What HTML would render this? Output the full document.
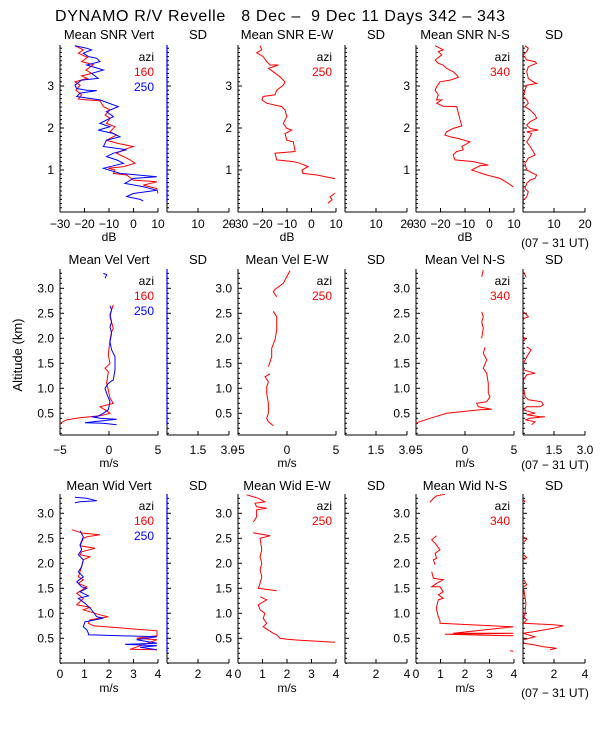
<!DOCTYPE html>
<html><head><meta charset="utf-8"><style>
html,body{margin:0;padding:0;background:#fff;}
svg{display:block;font-family:"Liberation Sans",sans-serif;}
</style></head><body>
<svg id="chart" width="600" height="750" viewBox="0 0 600 750" xmlns="http://www.w3.org/2000/svg">
<rect width="600" height="750" fill="#fff"/>
<text x="55" y="21" font-size="16" fill="#000" xml:space="preserve" style="white-space:pre" textLength="450" lengthAdjust="spacing">DYNAMO R/V Revelle   8 Dec –  9 Dec 11 Days 342 – 343</text>
<text transform="translate(22,355) rotate(-90)" text-anchor="middle" font-size="13">Altitude (km)</text>
</svg>
<script>
// ---- data: [altitude km, value] ; null = gap ----
const snrVert160=[[3.96,-23.9],[3.86,-20.5],[3.78,-22.5],[3.68,-18.8],[3.58,-21.2],[3.51,-16.4],[3.38,-19.4],[3.30,-17.1],[3.24,-21.2],[3.18,-18.8],[3.10,-23.9],[3.02,-21.8],[2.90,-23.5],[2.79,-21.2],[2.69,-22.5],[2.67,-19.1],[2.65,-13.7],[2.51,-12.3],[2.43,-9.6],[2.31,-11.6],[2.23,-9.6],[2.11,-11.0],[2.03,-7.6],[1.91,-9.6],[1.83,-6.9],[1.71,-11.0],[1.63,-6.2],[1.56,-0.1],[1.48,-4.1],[1.40,-6.9],[1.24,-1.4],[1.16,0.6],[1.08,-4.1],[1.04,-10.3],[1.00,-7.6],[0.92,-8.2],[0.88,-2.8],[0.76,-0.1],[0.72,9.5],[0.64,4.0],[0.56,9.5],[0.44,10]];
const snrVert250=[[3.96,-23.9],[3.90,-19.1],[3.86,-17.1],[3.78,-20.5],[3.70,-18.4],[3.66,-15.0],[3.58,-13.7],[3.50,-19.1],[3.38,-12.3],[3.30,-17.1],[3.18,-14.4],[3.14,-21.2],[3.02,-23.9],[2.94,-23.2],[2.90,-19.1],[2.89,-15.0],[2.83,-21.8],[2.75,-23.2],[2.67,-13.7],[2.51,-6.2],[2.39,-11.0],[2.27,-8.2],[2.19,-11.0],[2.11,-13.7],[2.03,-9.6],[1.95,-14.4],[1.87,-8.2],[1.79,-5.5],[1.71,-11.0],[1.56,-12.3],[1.48,-2.8],[1.40,-8.2],[1.32,-11.0],[1.24,-6.9],[1.16,-4.1],[1.10,-8.2],[1.04,-12.3],[0.92,-5.5],[0.84,9.5],[0.80,-0.1],[0.68,-3.5],[0.60,4.0],[0.52,9.5],[0.44,-0.1],[0.37,-2.8],[0.30,2.7],[0.26,4.0]];
const snrEW250=[[3.96,-21.0],[3.86,-20.3],[3.79,-22.4],[3.70,-19.7],[3.58,-18.3],[3.50,-16.9],[3.50,-13.5],[3.42,-17.6],[3.34,-15.6],[3.22,-12.9],[3.10,-10.8],[3.02,-11.5],[2.90,-14.2],[2.79,-14.9],[2.75,-19.7],[2.67,-20.3],[2.59,-18.3],[2.51,-12.2],[2.43,-10.8],[2.27,-10.1],[2.11,-11.5],[1.99,-10.1],[1.95,-8.1],[1.87,-10.8],[1.71,-10.1],[1.67,-7.4],[1.44,-6.7],[1.40,-14.9],[1.24,-14.2],[1.20,-7.4],[1.16,-4.7],[1.08,-1.4],[1.00,-3.9],[0.92,-3.5],[0.88,2.2],[0.79,9.6],null,[0.45,9.6],[0.36,7.6],[0.29,8.4],[0.21,6.7]];
const snrNS340=[[3.96,-22.2],[3.90,-20.2],[3.86,-18.9],[3.82,-20.9],[3.74,-19.5],[3.62,-22.2],[3.54,-20.9],[3.50,-18.9],[3.42,-17.5],[3.34,-14.8],[3.26,-13.4],[3.21,-12.7],[3.14,-16.1],[3.10,-20.2],[2.98,-21.6],[2.90,-22.2],[2.79,-20.9],[2.67,-21.6],[2.67,-19.5],[2.59,-21.6],[2.52,-18.9],[2.51,-13.4],[2.35,-12.7],[2.19,-12.0],[2.05,-11.3],[1.99,-14.8],[1.91,-17.5],[1.83,-18.2],[1.79,-16.1],[1.75,-12.7],[1.67,-8.0],[1.60,-10.0],[1.56,-11.3],[1.48,-10.7],[1.44,-13.4],[1.36,-14.8],[1.24,-14.1],[1.20,-6.6],[1.12,-0.5],[1.10,-3.9],[1.00,-7.3],[0.96,-5.2],[0.92,-3.2],[0.88,-1.1],[0.80,4.3],[0.68,7.7],[0.60,9.7]];
const snrSDNS=[[3.96,0.6],[3.90,1.7],[3.82,1.2],[3.74,0.1],[3.62,1.2],[3.58,3.9],[3.54,4.4],[3.46,1.7],[3.34,1.2],[3.18,1.7],[3.10,3.3],[3.06,4.4],[3.02,1.2],[2.90,0.6],[2.75,0.1],[2.67,1.2],[2.59,1.7],[2.51,0.6],[2.43,2.3],[2.31,3.9],[2.23,4.4],[2.15,2.3],[2.07,1.2],[1.99,2.3],[1.95,4.9],[1.91,1.2],[1.87,2.8],[1.79,2.3],[1.67,1.2],[1.56,2.3],[1.44,3.3],[1.36,3.9],[1.28,1.7],[1.16,0.6],[1.00,1.2],[0.92,3.3],[0.88,4.4],[0.80,3.9],[0.76,2.3],[0.68,1.2],[0.56,0.6],[0.48,1.7],[0.36,1.2],[0.28,0.1],[0.20,0.2]];
const velVert160=[[2.67,0.44],[2.57,0.27],[2.43,0.1],[2.20,0.44],[2.13,0.27],[1.97,0.1],[1.67,-0.07],[1.50,0.1],[1.43,-0.24],[1.40,-0.41],[1.33,-0.07],[1.10,-0.24],[0.97,-0.07],[0.80,0.1],[0.70,0.44],[0.63,-0.92],[0.57,-0.41],[0.50,0.1],[0.45,-0.92],[0.43,-1.94],[0.41,-2.96],[0.37,-4.32],[0.30,-5.0]];
const velVert250=[[3.30,-0.58],[3.27,-0.23],[3.20,-0.41],null,[2.65,0.1],[2.57,0.27],[2.47,0.1],[2.33,0.27],[2.23,0.1],[2.10,0.27],[1.93,0.1],[1.77,0.27],[1.63,0.61],[1.37,0.61],[1.17,0.44],[1.10,-0.07],[1.00,-0.41],[0.90,-0.24],[0.73,0.1],[0.57,-0.07],[0.50,-0.58],[0.43,-1.26],[0.43,-1.77],[0.40,-0.92],[0.38,0.78],[0.33,-1.6],[0.31,-2.45],[0.30,-0.58],[0.27,0.78]];
const velEW250=[[3.35,0.31],[3.23,-0.03],[3.10,-0.38],[2.98,-1.22],[2.93,-1.4],[2.83,-1.05],null,[2.54,-1.4],[2.43,-1.05],[2.17,-1.05],[1.97,-1.22],[1.80,-1.56],[1.63,-1.56],[1.43,-1.9],null,[1.29,-1.73],[1.23,-2.24],[1.13,-1.9],[1.03,-2.07],[0.90,-2.07],[0.70,-1.9],[0.50,-1.9],[0.40,-2.07],[0.33,-1.9],[0.25,-1.4]];
const velNS340=[[3.37,1.87],[3.23,1.7],null,[2.53,1.7],[2.43,1.87],[2.33,1.7],[2.20,1.87],[2.00,1.7],null,[1.82,2.04],[1.70,1.87],[1.57,2.21],[1.40,1.87],[1.30,2.21],[1.10,2.38],[0.90,2.38],[0.83,2.55],[0.73,2.21],[0.70,1.19],[0.63,1.36],[0.58,2.72],[0.57,1.53],[0.50,-1.87],[0.40,-3.57],[0.30,-5.1]];
const velSDNS=[[3.32,0.02],[3.27,0.1],[3.22,0.15],null,[2.53,0.02],[2.43,0.26],[2.40,0.05],[2.37,0.02],null,[2.03,0.02],[1.98,0.1],[1.94,0.02],null,[1.83,0.18],[1.77,0.39],[1.63,0.18],[1.50,0.02],[1.37,0.03],[1.30,0.58],[1.27,0.18],[1.17,0.03],[1.03,0.02],[0.83,0.1],[0.77,0.26],[0.73,0.9],[0.67,0.98],[0.63,0.82],[0.63,0.18],[0.57,0.02],[0.53,0.34],[0.50,0.58],[0.47,0.18],[0.43,0.82],[0.43,1.06],[0.40,0.34],[0.37,0.1],[0.33,0.58],[0.27,0.42]];
const widVert160=[[2.67,0.48],[2.60,0.95],[2.57,1.63],[2.53,1.09],[2.50,0.95],[2.35,0.82],[2.30,1.43],[2.23,0.88],[2.17,0.82],[2.13,1.22],[2.07,0.95],[1.93,0.88],[1.73,0.75],[1.67,0.95],[1.60,0.75],[1.53,1.09],[1.40,0.68],[1.30,0.95],[1.17,0.68],[1.12,1.22],[1.07,0.95],[1.03,1.22],[0.97,1.63],[0.93,1.97],[0.87,1.22],[0.80,1.16],[0.75,1.36],[0.65,3.96],[0.55,3.96],[0.50,3.13],[0.47,3.96],[0.28,2.86],[0.27,3.96]];
const widVert250=[[3.32,0.61],[3.30,1.09],[3.25,1.5],[3.23,0.82],[3.21,0.61],null,[2.65,0.82],[2.53,0.95],[2.37,0.82],[2.27,0.88],[2.17,0.75],[2.07,0.95],[1.93,0.88],[1.83,0.75],[1.73,0.95],[1.63,0.68],[1.53,0.88],[1.50,1.09],[1.43,0.82],[1.35,1.16],[1.30,0.75],[1.20,1.02],[1.07,1.29],[0.93,1.50],[0.90,1.77],[0.83,1.02],[0.73,0.95],[0.67,1.09],[0.60,1.16],[0.57,1.16],[0.53,3.96],[0.47,3.13],[0.40,3.96],[0.38,2.65],[0.35,3.96],[0.32,3.27],[0.27,3.96]];
const widEW250=[[3.37,0.35],[3.30,0.83],[3.23,1.1],[3.20,0.69],[3.13,0.76],[3.10,1.17],[3.07,0.76],[2.93,0.76],[2.87,0.69],[2.83,0.62],null,[2.61,0.62],[2.55,1.31],[2.50,0.9],[2.27,0.97],[2.13,0.9],[2.00,0.97],[1.87,0.9],[1.73,0.97],[1.60,0.9],[1.50,0.83],[1.45,1.58],null,[1.33,0.9],[1.27,1.17],[1.17,0.83],[1.07,0.9],[1.00,1.1],[0.90,1.03],[0.80,1.17],[0.73,1.03],[0.60,1.44],[0.57,1.58],[0.50,1.71],[0.48,1.99],[0.46,2.53],[0.42,3.96]];
const widNS340=[[3.22,0.57],[3.30,0.71],[3.35,0.84],[3.38,1.18],null,[2.55,0.84],[2.47,0.64],[2.40,0.78],[2.27,0.98],[2.20,0.78],[2.10,0.84],[2.07,0.71],[1.97,0.78],null,[1.83,0.64],[1.70,0.71],[1.67,1.11],[1.60,0.84],[1.53,0.64],[1.53,0.98],[1.43,1.11],[1.37,0.91],[1.30,1.11],[1.27,0.91],[1.13,0.84],[1.07,0.84],[0.93,0.91],[0.85,0.98],[0.80,0.98],[0.73,3.97],[0.60,1.52],[0.60,3.97],[0.58,1.18],[0.55,3.97],null,[0.25,3.84],[0.24,3.97]];
const widSDNS=[[3.27,0.06],[3.22,0.13],null,[2.53,0.02],[2.48,0.24],[2.43,0.06],null,[2.17,0.02],[2.12,0.24],[2.07,0.06],null,[1.67,0.06],[1.57,0.24],[1.53,0.02],[1.47,0.06],[1.20,0.19],[1.00,0.13],[0.93,0.06],[0.87,0.24],[0.80,0.02],[0.77,1.96],[0.75,2.6],[0.70,1.96],[0.63,0.67],[0.60,0.02],[0.53,0.77],[0.47,0.02],[0.40,0.06],[0.37,0.67],[0.33,1.31],[0.30,2.17],[0.27,1.74]];
const legendRows=[["azi","160","250"],["azi","250"],["azi","340"]];

const RED="#ff0000",BLUE="#0000ff";
const svg=document.getElementById('chart');
const NS="http://www.w3.org/2000/svg";
function el(tag,attrs,parent){const e=document.createElementNS(NS,tag);for(const k in attrs)e.setAttribute(k,attrs[k]);(parent||svg).appendChild(e);return e;}
const colX=[[60,158],[167,229],[238,336],[345,407],[416,514],[523,585]];
const rows=[
 {top:45,bottom:212,y0:212,ppk:42,amin:0,amax:3.98,major:[1,2,3],fmt:v=>String(v),tickY:228,unitY:241,utY:247,titleY:39},
 {top:269,bottom:435,y0:438.3,ppk:50,amin:0.07,amax:3.39,major:[0.5,1,1.5,2,2.5,3],fmt:v=>v.toFixed(1),tickY:454,unitY:467,utY:469,titleY:264},
 {top:494,bottom:663,y0:663.3,ppk:50,amin:0,amax:3.39,major:[0.5,1,1.5,2,2.5,3],fmt:v=>v.toFixed(1),tickY:678,unitY:692,utY:697,titleY:490}
];
const titles=[["Mean SNR Vert","SD","Mean SNR E-W","SD","Mean SNR N-S","SD"],["Mean Vel Vert","SD","Mean Vel E-W","SD","Mean Vel N-S","SD"],["Mean Wid Vert","SD","Mean Wid E-W","SD","Mean Wid N-S","SD"]];
const ranges=[[[-30,10],[0,20]],[[-5,5],[0,3]],[[0,4],[0,4]]];
const meanTicks=[[-30,-20,-10,0,10],[-5,0,5],[0,1,2,3,4]];
const sdTicks=[[10,20],[1.5,3.0],[2,4]];
const sdFmt=[v=>String(v),v=>v.toFixed(1),v=>String(v)];
const units=["dB","m/s","m/s"];
const series=[
 [[[snrVert160,RED],[snrVert250,BLUE]],null,[[snrEW250,RED]],null,[[snrNS340,RED]],[[snrSDNS,RED]]],
 [[[velVert160,RED],[velVert250,BLUE]],null,[[velEW250,RED]],null,[[velNS340,RED]],[[velSDNS,RED]]],
 [[[widVert160,RED],[widVert250,BLUE]],null,[[widEW250,RED]],null,[[widNS340,RED]],[[widSDNS,RED]]]
];
const sdAxisColor=[BLUE,null,RED];

rows.forEach((r,ri)=>{
  const yScale=a=>r.y0-r.ppk*a;
  for(let c=0;c<6;c++){
    const [x0,x1]=colX[c];
    const isSD=c%2===1;
    const [vmin,vmax]=ranges[ri][isSD?1:0];
    const xScale=v=>x0+(v-vmin)/(vmax-vmin)*(x1-x0);
    const g=el('g',{});
    
    
    const t=el('text',{x:(x0+x1)/2,y:r.titleY,'text-anchor':'middle','font-size':'13'},g);
    t.textContent=titles[ri][c];
    
    
    el('line',{x1:x0,y1:r.bottom,x2:x1,y2:r.bottom,stroke:'#000','stroke-width':1},g);
    const lc=(isSD&&c<5)?sdAxisColor[c>>1]:'#000';
    el('line',{x1:x0,y1:r.top,x2:x0,y2:r.bottom,stroke:'#000','stroke-width':1},g);
    if(lc&&lc!=='#000') el('line',{x1:x0,y1:r.top,x2:x0,y2:r.bottom-10,stroke:lc,'stroke-width':1.2},g);
    for(let a=Math.ceil(r.amin*10)/10;a<=r.amax+1e-6;a=Math.round((a+0.1)*10)/10){
      const y=yScale(a);const maj=r.major.some(m=>Math.abs(m-a)<1e-6);
      el('line',{x1:x0,y1:y,x2:x0+(maj?4:2),y2:y,stroke:'#000','stroke-width':1},g);
    }
    if(!isSD){
      r.major.forEach(m=>{const tx=el('text',{x:x0-6,y:yScale(m)+4,'text-anchor':'end','font-size':'12'},g);tx.textContent=r.fmt(m);});
    }
    const xt=isSD?sdTicks[ri]:meanTicks[ri];
    xt.forEach(v=>{const x=xScale(v);
      el('line',{x1:x,y1:r.bottom,x2:x,y2:r.bottom-4,stroke:'#000'},g);
      const tx=el('text',{x:x,y:r.tickY,'text-anchor':'middle','font-size':'12'},g);
      tx.textContent=isSD?sdFmt[ri](v):String(v).replace('-','\u2212');});
    if(!isSD){const u=el('text',{x:(x0+x1)/2,y:r.unitY,'text-anchor':'middle','font-size':'12'},g);u.textContent=units[ri];
      }
    if(c===5){const u=el('text',{x:555,y:r.utY,'text-anchor':'middle','font-size':'12'},g);u.textContent="(07 \u2212 31 UT)";
      }
    const cid='clip'+ri+c;
    const cp=el('clipPath',{id:cid},g);el('rect',{x:x0,y:r.top,width:x1-x0+1,height:r.bottom-r.top},cp);
    const ser=series[ri][c];
    if(ser){ser.forEach(([data,col],si)=>{
      let d='',pen=false;
      data.forEach(p=>{if(!p){pen=false;return;}const x=xScale(p[1]),y=yScale(p[0]);d+=(pen?'L':'M')+x.toFixed(1)+' '+y.toFixed(1);pen=true;});
      const path=el('path',{d:d,fill:'none',stroke:col,'stroke-width':1,'clip-path':'url(#'+cid+')'},g);
      
      
    });}
    if(c===0||c===2||c===4){
      const items=legendRows[c/2];
      const cols=["#000"].concat(c===0?[RED,BLUE]:[RED]);
      items.forEach((s,i)=>{const lt=el('text',{x:x1-4,y:r.top+16+i*15,'text-anchor':'end','font-size':'12',fill:cols[i]},g);lt.textContent=s;
        });
    }
  }
});
</script>
</body></html>
